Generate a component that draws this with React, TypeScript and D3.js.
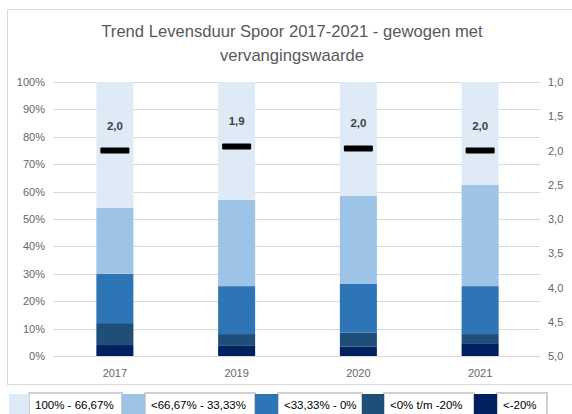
import React from 'react';
import * as d3 from 'd3';

const categories = ['2017', '2019', '2020', '2021'];
const seriesNames = ['100% - 66,67%', '<66,67% - 33,33%', '<33,33% - 0%', '<0% t/m -20%', '<-20%'];
const seriesColors = ['#deebf7', '#9dc3e6', '#2e75b6', '#1f4e79', '#002060'];
const s100to67 = [46, 43, 41.6, 37.6];
const s67to33 = [24, 31.5, 32.1, 36.9];
const s33to0 = [18, 17.5, 17.8, 17.5];
const s0toMin20 = [8, 4.3, 5.1, 3.6];
const sBelowMin20 = [4, 3.7, 3.4, 4.4];
const levensduur = [2.0, 1.94, 1.97, 2.0];
const leftTicks = [0, 0.1, 0.2, 0.3, 0.4, 0.5, 0.6, 0.7, 0.8, 0.9, 1.0];
const rightTicks = [1.0, 1.5, 2.0, 2.5, 3.0, 3.5, 4.0, 4.5, 5.0];

const W = 572;
const H = 414;
const FONT = "'Liberation Sans', Arial, sans-serif";
const TXT = '#666666';

export default function App() {
  const x = d3.scaleBand<string>().domain(categories).range([54, 541]).paddingInner(0.696).paddingOuter(0.348);
  const y = d3.scaleLinear().domain([0, 1]).range([356, 82]);
  const y2 = d3.scaleLinear().domain([1, 5]).range([82, 356]);

  const rows = categories.map((c, i) => ({
    cat: c,
    s0: sBelowMin20[i] / 100,
    s1: s0toMin20[i] / 100,
    s2: s33to0[i] / 100,
    s3: s67to33[i] / 100,
    s4: s100to67[i] / 100,
  }));
  const keys = ['s0', 's1', 's2', 's3', 's4'];
  const stack = d3.stack<any>().keys(keys)(rows);
  const stackColors = [seriesColors[4], seriesColors[3], seriesColors[2], seriesColors[1], seriesColors[0]];

  const fmt = (v: number) => d3.format('.1f')(v).replace('.', ',');
  const pct = (v: number) => d3.format('.0%')(v);

  // legend layout
  const legendY = 394;
  const swatchW = [20, 23, 23, 22, 23];
  const cellW = [93, 110, 84, 90, 50];
  let cx = 9;
  const legendItems = seriesNames.map((n, i) => {
    const sx = cx;
    cx += swatchW[i];
    const tx = cx;
    cx += cellW[i];
    return { n, sx, sw: swatchW[i], tx, tw: cellW[i], color: seriesColors[i] };
  });

  return (
    <div style={{ position: 'absolute', left: 0, top: 0 }}>
      <svg width={W} height={H} style={{ display: 'block', background: '#fff' }} fontFamily={FONT}>
        <rect x={7.5} y={9.5} width={620} height={375} fill="#fff" stroke="#d9d9d9" strokeWidth={1} />
        <text x={292} y={37} textAnchor="middle" fontSize={16.6} fill="#595959">
          Trend Levensduur Spoor 2017-2021 - gewogen met
        </text>
        <text x={292} y={61} textAnchor="middle" fontSize={16.6} fill="#595959">
          vervangingswaarde
        </text>
        {leftTicks.map((t) => (
          <g key={'g' + t}>
            <line x1={53} x2={540} y1={Math.round(y(t)) + 0.5} y2={Math.round(y(t)) + 0.5} stroke="#d9d9d9" strokeWidth={1} />
            <text x={45} y={y(t) + 4} textAnchor="end" fontSize={11} fill={TXT}>
              {pct(t)}
            </text>
          </g>
        ))}
        {rightTicks.map((t) => (
          <text key={'r' + t} x={548} y={y2(t) + 4} fontSize={11} fill={TXT}>
            {fmt(t)}
          </text>
        ))}
        {stack.map((layer, li) => (
          <g key={'l' + li} fill={stackColors[li]}>
            {layer.map((d: any, i: number) => (
              <rect
                key={i}
                x={x(categories[i])}
                width={x.bandwidth()}
                y={y(d[1])}
                height={y(d[0]) - y(d[1])}
              />
            ))}
          </g>
        ))}
        {categories.map((c, i) => (
          <g key={'m' + c}>
            <rect
              x={(x(c) as number) + x.bandwidth() / 2 - 14.5}
              y={y2(levensduur[i]) - 3}
              width={29}
              height={6}
              rx={1}
              fill="#000"
            />
            <text
              x={(x(c) as number) + x.bandwidth() / 2}
              y={y2(levensduur[i]) - 21}
              textAnchor="middle"
              fontSize={11.5}
              fontWeight="bold"
              fill="#404040"
            >
              {fmt(levensduur[i])}
            </text>
            <text x={(x(c) as number) + x.bandwidth() / 2} y={377} textAnchor="middle" fontSize={11} fill={TXT}>
              {c}
            </text>
          </g>
        ))}
        {legendItems.map((it) => (
          <g key={it.n}>
            <rect x={it.tx} y={legendY - 1} width={it.tw} height={24} fill="#fff" stroke="#d0d0d0" strokeWidth={2} />
            <rect x={it.sx} y={legendY} width={it.sw} height={22} fill={it.color} />
            <text x={it.tx + 6} y={legendY + 15} fontSize={11.5} fill="#000">
              {it.n}
            </text>
          </g>
        ))}
      </svg>
    </div>
  );
}
